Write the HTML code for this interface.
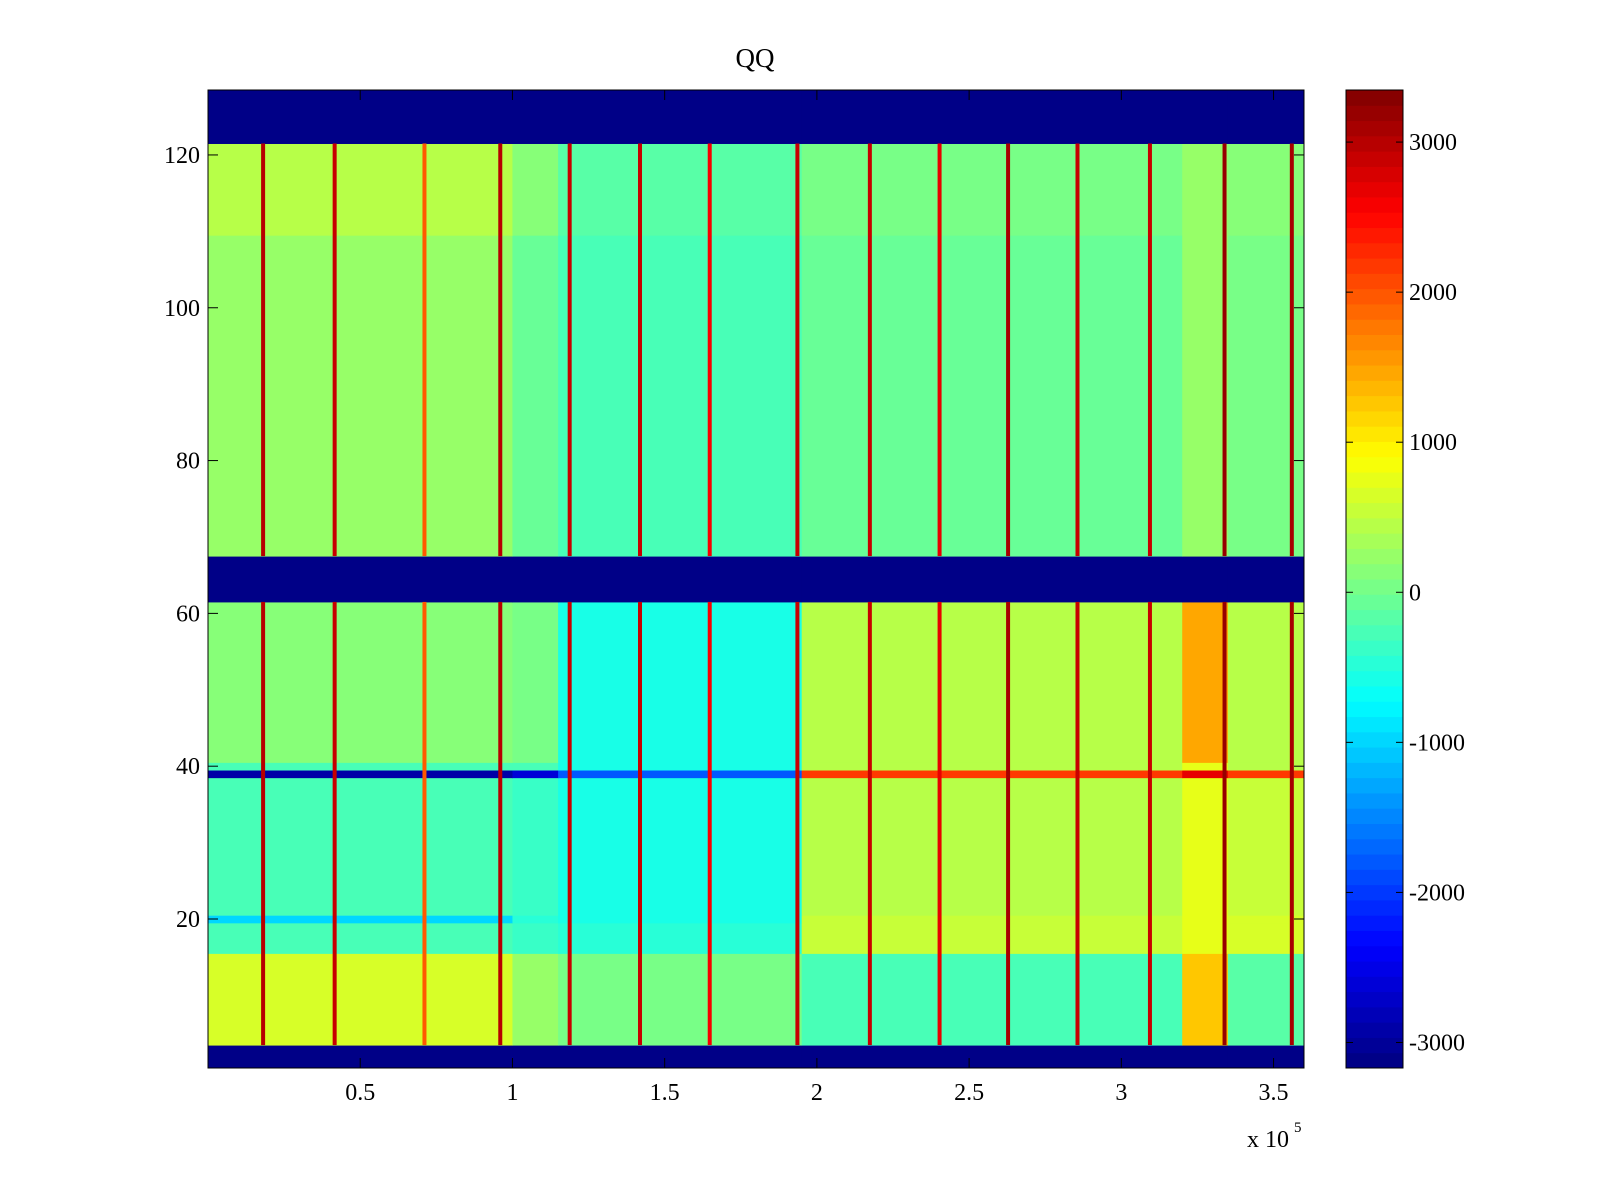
<!DOCTYPE html>
<html><head><meta charset="utf-8"><style>
html,body{margin:0;padding:0;background:#fff;width:1600px;height:1200px;overflow:hidden}
svg text{font-family:"Liberation Serif",serif;fill:#000}
</style></head><body>
<svg id="chart" width="1600" height="1200" xmlns="http://www.w3.org/2000/svg"></svg>
<script>
// ---- data ----
const colEdges = [0, 1.0, 1.15, 1.95, 3.2, 3.35, 3.6]; // x 10^5
const rowBandStart = [1, 4, 16, 20, 21, 39, 40, 41, 62, 68, 110, 122];
const rowBandEnd   = [3, 15, 19, 20, 38, 39, 40, 61, 67, 109, 121, 128];
const bandValues = [
  [-3200,-3200,-3200,-3200,-3200,-3200],
  [600,200,0,-300,1300,-200],
  [-300,-400,-500,500,800,600],
  [-1000,-500,-600,500,800,600],
  [-300,-400,-600,450,800,500],
  [-2900,-2600,-1800,2200,2700,2200],
  [-300,-300,-600,400,800,400],
  [100,0,-600,400,1500,400],
  [-3200,-3200,-3200,-3200,-3200,-3200],
  [200,-100,-300,-50,200,0],
  [400,100,-200,0,200,100],
  [-3200,-3200,-3200,-3200,-3200,-3200]
];
const stripeX = [0.181,0.416,0.711,0.960,1.188,1.419,1.648,1.936,2.174,2.403,2.628,2.856,3.094,3.339,3.560];
const stripeValue = [3000,2900,2000,3000,2900,2900,2600,2900,2900,2700,3100,2900,2900,3200,3100];
const stripeRowStart = [4, 68];
const stripeRowEnd = [61, 121];
const xTicks = [0.5,1,1.5,2,2.5,3,3.5];
const xTickLabels = ["0.5","1","1.5","2","2.5","3","3.5"];
const yTicks = [20,40,60,80,100,120];
const cTicks = [-3000,-2000,-1000,0,1000,2000,3000];

// ---- axes ----
const L=208,R=1304,T=90,B=1068;
const xMin=0,xMax=3.6,yMin=0.5,yMax=128.5;
const cMin=-3170,cMax=3347;
const sx=v=>L+(v-xMin)/(xMax-xMin)*(R-L);
const sy=v=>B-(v-yMin)/(yMax-yMin)*(B-T);
function jet(t){
  t=Math.max(0,Math.min(1,t));
  t=(Math.floor(t*63.999)+0.5)/64;
  const f=x=>Math.round(255*Math.max(0,Math.min(1,1.5-Math.abs(x))));
  return `rgb(${f(4*t-3)},${f(4*t-2)},${f(4*t-1)})`;
}
const cv=v=>jet((v-cMin)/(cMax-cMin));
const svg=document.getElementById('chart');
const NS='http://www.w3.org/2000/svg';
function mk(tag,attrs,parent){const e=document.createElementNS(NS,tag);for(const k in attrs)e.setAttribute(k,attrs[k]);(parent||svg).appendChild(e);return e;}

const g=mk('g',{});


for(let b=0;b<rowBandStart.length;b++){
  for(let c=0;c<colEdges.length-1;c++){
    const x0=sx(colEdges[c]),x1=sx(colEdges[c+1]);
    const y0=sy(rowBandEnd[b]+0.5),y1=sy(rowBandStart[b]-0.5);
    const r=mk('rect',{x:x0,y:y0,width:x1-x0+0.5,height:y1-y0+0.5,fill:cv(bandValues[b][c])},g);
    
    
  }
}
for(let i=0;i<stripeX.length;i++){
  for(let s=0;s<stripeRowStart.length;s++){
    const y0=sy(stripeRowEnd[s]+0.5),y1=sy(stripeRowStart[s]-0.5);
    const r=mk('rect',{x:sx(stripeX[i])-2,y:y0,width:4,height:y1-y0,fill:cv(stripeValue[i])},g);
    
    
  }
}
const frame=mk('rect',{x:L,y:T,width:R-L,height:B-T,fill:'none',stroke:'#000','stroke-width':1});



xTicks.forEach((v,i)=>{
  const x=sx(v);
  mk('line',{x1:x,y1:B,x2:x,y2:B-10,stroke:'#000'});
  mk('line',{x1:x,y1:T,x2:x,y2:T+10,stroke:'#000'});
  const t=mk('text',{x:x,y:1100,'font-size':24,'text-anchor':'middle'});
  t.textContent=xTickLabels[i];
  
  
});
yTicks.forEach(v=>{
  const y=sy(v);
  mk('line',{x1:L,y1:y,x2:L+10,y2:y,stroke:'#000'});
  mk('line',{x1:R,y1:y,x2:R-10,y2:y,stroke:'#000'});
  const t=mk('text',{x:200,y:y+8,'font-size':24,'text-anchor':'end'});
  t.textContent=String(v);
  
  
});
const title=mk('text',{x:755,y:67,'font-size':27,'text-anchor':'middle'});
title.textContent='QQ';


const ex=mk('text',{x:1247,y:1147,'font-size':24});
ex.textContent='x 10';


const ex2=mk('text',{x:1294,y:1132,'font-size':15});
ex2.textContent='5';



// colorbar
const CL=1346,CR=1403;
const cy=v=>B-(v-cMin)/(cMax-cMin)*(B-T);
const cb=mk('g',{});


for(let i=0;i<64;i++){
  const v0=cMin+(cMax-cMin)*i/64,v1=cMin+(cMax-cMin)*(i+1)/64;
  mk('rect',{x:CL,y:cy(v1),width:CR-CL,height:cy(v0)-cy(v1)+0.5,fill:jet((i+0.5)/64)},cb);
}
mk('rect',{x:CL,y:T,width:CR-CL,height:B-T,fill:'none',stroke:'#000'},cb);
cTicks.forEach(v=>{
  const y=cy(v);
  mk('line',{x1:CL,y1:y,x2:CL+7,y2:y,stroke:'#000'},cb);
  mk('line',{x1:CR,y1:y,x2:CR-7,y2:y,stroke:'#000'},cb);
  const t=mk('text',{x:1409,y:y+8,'font-size':24},cb);
  t.textContent=String(v);
  
  
});
</script>
</body></html>
